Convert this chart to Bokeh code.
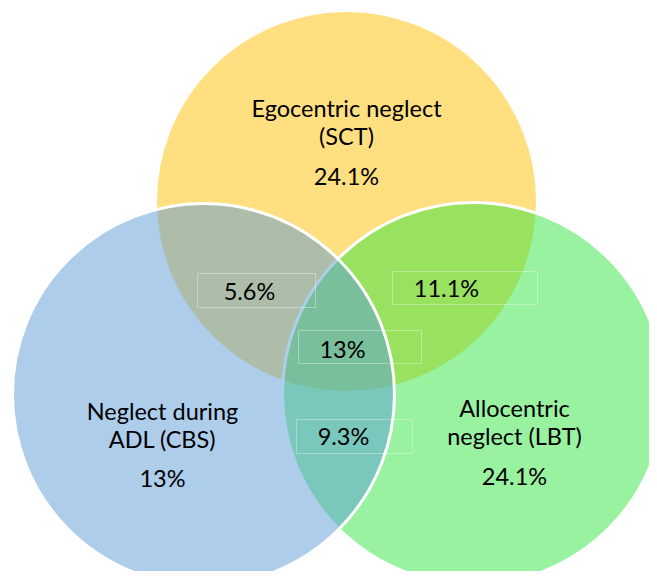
from bokeh.plotting import figure
from bokeh.models import Range1d, ColumnDataSource
from bokeh.core.properties import value
from bokeh.embed import file_html
from bokeh.resources import INLINE

# ---- data ----
set_keys = ["SCT", "LBT", "CBS"]          # drawing order: yellow, green, blue
set_lines = {
    "SCT": ["Egocentric neglect", "(SCT)"],
    "CBS": ["Neglect during", "ADL (CBS)"],
    "LBT": ["Allocentric", "neglect (LBT)"],
}
set_only_pct = {"SCT": "24.1%", "CBS": "13%", "LBT": "24.1%"}
overlap_keys = ["SCT&CBS", "SCT&LBT", "SCT&CBS&LBT", "CBS&LBT"]
overlap_pct = ["5.6%", "11.1%", "13%", "9.3%"]

# ---- layout / style (screen-pixel coordinates) ----
circle_pos = {"SCT": (346, 201), "CBS": (203, 394), "LBT": (473, 393)}
radius = 191
colors = {"SCT": "#FFC000", "CBS": "#5B9BD5", "LBT": "#33E541"}
label_pos = {"SCT": (346, 107.5), "CBS": (162, 410), "LBT": (514, 407)}
pct_mid = {"SCT": 175, "CBS": 477.5, "LBT": 475}
line_gap = 28
overlap_text = {"SCT&CBS": (249, 290), "SCT&LBT": (446, 287.5),
                "SCT&CBS&LBT": (342, 348), "CBS&LBT": (343, 435)}
overlap_box = {"SCT&CBS": (197, 315, 273, 307), "SCT&LBT": (392, 537, 271, 304),
               "SCT&CBS&LBT": (298, 421, 330, 363), "CBS&LBT": (296, 412, 419, 453)}

W, H = 649, 571
p = figure(width=W, height=H, output_backend="svg", toolbar_location=None,
           x_range=Range1d(0, W), y_range=Range1d(H, 0),
           x_axis_location=None, y_axis_location=None, min_border=0)
p.grid.visible = False
p.outline_line_color = None
p.background_fill_color = "white"
p.border_fill_color = "white"

for k in set_keys:
    cx, cy = circle_pos[k]
    p.circle(x=[cx], y=[cy], radius=radius, fill_color=colors[k], fill_alpha=0.5,
             line_color="white", line_width=3)

# overlap label boxes
src_box = ColumnDataSource(dict(
    left=[overlap_box[k][0] for k in overlap_keys],
    right=[overlap_box[k][1] for k in overlap_keys],
    top=[overlap_box[k][2] for k in overlap_keys],
    bottom=[overlap_box[k][3] for k in overlap_keys],
))
p.quad(left="left", right="right", top="top", bottom="bottom", source=src_box,
       fill_color=None, line_color="white", line_alpha=0.35, line_width=1)

font = value("Lato")
fsize = value("23.5px")

xs, ys, ts = [], [], []
for k in set_keys:
    x0, y0 = label_pos[k]
    for i, line in enumerate(set_lines[k]):
        xs.append(x0); ys.append(y0 + i * line_gap); ts.append(line)
    xs.append(x0); ys.append(pct_mid[k]); ts.append(set_only_pct[k])
for k, t in zip(overlap_keys, overlap_pct):
    xs.append(overlap_text[k][0]); ys.append(overlap_text[k][1]); ts.append(t)

p.text(x=xs, y=ys, text=ts, text_font=font, text_font_size=fsize,
       text_align="center", text_baseline="middle", text_color="#000000")

open("out.html", "w").write(file_html(p, INLINE))
